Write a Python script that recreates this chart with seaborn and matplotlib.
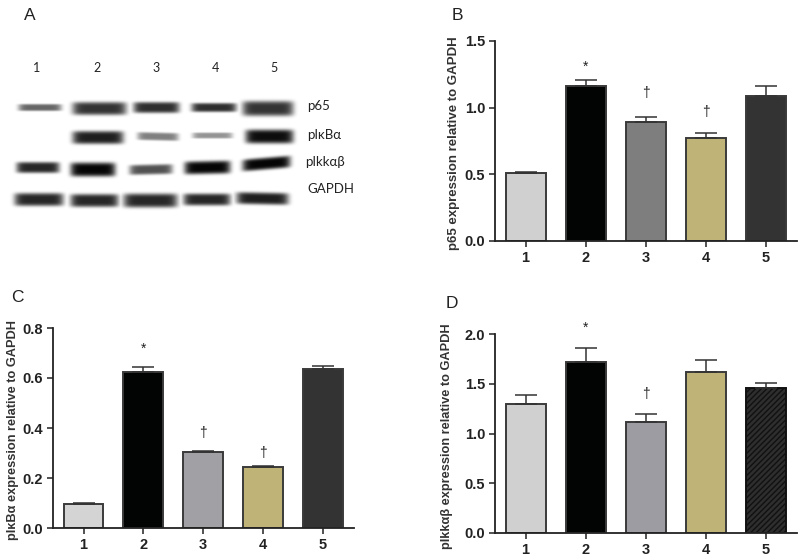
"""
plot.py
Western blot panel and three bar charts of protein expression relative to GAPDH.
"""

import numpy as np
import pandas as pd
import matplotlib.pyplot as plt
import seaborn as sns

sns.set_theme(style='ticks')
plt.rcParams['font.family'] = ['Liberation Sans', 'DejaVu Sans']

W, H = 800, 559

#
#  Values
#

groups = ['1', '2', '3', '4', '5']

p65_mean = [0.507, 1.165, 0.895, 0.775, 1.088]
p65_top = [0.516, 1.208, 0.928, 0.812, 1.165]

ikba_mean = [0.098, 0.626, 0.305, 0.246, 0.638]
ikba_top = [0.102, 0.646, 0.310, 0.250, 0.650]

ikk_mean = [1.294, 1.716, 1.114, 1.615, 1.455]
ikk_top = [1.385, 1.856, 1.194, 1.736, 1.512]

p65_marks = ['', '*', '†', '†', '']
ikba_marks = ['', '*', '†', '†', '']
ikk_marks = ['', '*', '†', '', '']

p65_mark_y = [0, 1.31, 1.11, 0.97, 0]
ikba_mark_y = [0, 0.716, 0.379, 0.302, 0]
ikk_mark_y = [0, 2.06, 1.398, 0, 0]

p65_colors = ['#d0d0d0', '#020404', '#7e7e7e', '#bfb377', '#333333']
ikba_colors = ['#d4d4d4', '#020404', '#a0a0a5', '#bfb377', '#333333']
ikk_colors = ['#d0d0d0', '#020404', '#9c9ca2', '#bfb377', '#2e2e2e']

blot_lanes = ['1', '2', '3', '4', '5']
blot_rows = ['p65', 'pIκBα', 'pIkkαβ', 'GAPDH']

#  band darkness, one row per protein, 0 = no band
p65_bands = [0.60, 0.80, 0.82, 0.82, 0.80]
ikba_bands = [0.0, 0.88, 0.50, 0.42, 0.95]
ikk_bands = [0.85, 0.98, 0.68, 0.98, 0.98]
gapdh_bands = [0.85, 0.85, 0.85, 0.85, 0.88]


def px_axes(fig, left, top, right, bottom):
    return fig.add_axes([left/W, 1-bottom/H, (right-left)/W, (bottom-top)/H])


def fig_text(fig, x, y, s, **kw):
    fig.text(x/W, 1-y/H, s, **kw)


fig = plt.figure(figsize=(W/100, H/100), dpi=100, facecolor='white')

#
#  Panel A: blot drawn as soft bands on a white image. Layout is in
#  pixels: lane start, lane end, row centre, band height, tilt.
#

p65_shape = [(18, 61, 107, 7, 0), (72, 126, 108, 13, 0), (133, 179, 107, 11, 0),
             (191, 236, 107, 9, 0), (242, 293, 108, 15, 0)]
ikba_shape = [(0, 0, 0, 1, 0), (72, 123, 137, 13, 0), (137, 178, 136, 8, 1),
              (192, 232, 135, 6, 0), (245, 293, 136, 14, 0)]
ikk_shape = [(16, 59, 167, 11, 0), (70, 115, 169, 14, 0), (129, 172, 169, 10, -1),
             (184, 230, 167, 13, -1), (242, 290, 163, 12, -4)]
gapdh_shape = [(14, 63, 199, 13, 0), (70, 118, 200, 13, 0), (123, 177, 200, 14, 0),
               (183, 230, 199, 12, 0), (236, 288, 198, 12, 1)]

yy, xx = np.mgrid[0:240, 0:400]
blot = np.zeros(xx.shape)
all_bands = [p65_bands, ikba_bands, ikk_bands, gapdh_bands]
all_shapes = [p65_shape, ikba_shape, ikk_shape, gapdh_shape]
for bands, shapes in zip(all_bands, all_shapes):
    for dark, (x0, x1, yc, h, tilt) in zip(bands, shapes):
        if dark == 0:
            continue
        xc = (x0+x1)/2
        hw = (x1-x0)/2
        dx = (xx-xc)/hw
        dy = (yy-yc-tilt*dx/2)/(h/2)
        blot = np.maximum(blot, dark*np.exp(-(dx**8)-np.abs(dy)**4))

ax_blot = px_axes(fig, 0, 0, 400, 240)
ax_blot.imshow(1-blot, cmap='gray', vmin=0, vmax=1, aspect='auto', interpolation='bilinear')
ax_blot.axis('off')

blot_font = ['Lato', 'Open Sans', 'DejaVu Sans']
for lane, x in zip(blot_lanes, [37, 97, 156, 215, 274]):
    fig_text(fig, x, 68, lane, fontsize=9, family=blot_font, color='#222222',
             ha='center', va='center')
for row, x, y in zip(blot_rows, [307, 307, 305, 307], [106, 135, 162, 189]):
    fig_text(fig, x, y, row, fontsize=9.5, family=blot_font, color='#222222',
             ha='left', va='center')

#
#  Panels B, C, D
#


def bar_panel(box, ymax, step, mean, top, marks, mark_y, colors, ylabel, label_x, label_y, size):
    ax = px_axes(fig, *box)
    data = pd.DataFrame({'group': groups, 'mean': mean})
    sns.barplot(data=data, x='group', y='mean', hue='group', palette=colors, dodge=False,
                legend=False, width=0.667, linewidth=1.4, edgecolor='#3a3a3a',
                saturation=1, ax=ax)

    err = np.array(top)-np.array(mean)
    ax.errorbar(range(5), mean, yerr=[np.zeros(5), err], fmt='none', ecolor='#333333',
                elinewidth=1.1, capsize=8, capthick=1.1, zorder=1)

    for i, (m, y) in enumerate(zip(marks, mark_y)):
        if m:
            ax.text(i, y, m, ha='center', va='center', fontsize=10, color='#222222',
                    clip_on=False)

    ax.set_xlim(-0.51, 4.52)
    ax.set_ylim(0, ymax)
    ax.set_yticks(np.arange(0, ymax+step/2, step))
    ax.yaxis.set_major_formatter(plt.FormatStrFormatter('%.1f'))
    ax.set_xlabel('')
    ax.set_ylabel('')
    ax.tick_params(axis='both', length=4, width=1.1, color='#222222', pad=3)
    for t in ax.get_xticklabels()+ax.get_yticklabels():
        t.set_fontsize(10.5)
        t.set_fontweight('bold')
        t.set_color('#222222')
    sns.despine(ax=ax)
    for side in ['left', 'bottom']:
        ax.spines[side].set_linewidth(1.3)
        ax.spines[side].set_color('#222222')
    fig_text(fig, label_x, label_y, ylabel, rotation=90, fontsize=size, fontweight='bold',
             color='#333333', ha='center', va='center')
    return ax


bar_panel((495, 41, 797, 241), 1.5, 0.5, p65_mean, p65_top, p65_marks, p65_mark_y, p65_colors,
          'p65 expression relative to GAPDH', 454, 143, 9.5)
bar_panel((53, 328, 354, 528), 0.8, 0.2, ikba_mean, ikba_top, ikba_marks, ikba_mark_y, ikba_colors,
          'pIκBα expression relative to GAPDH', 13, 430, 9.2)
ax_d = bar_panel((495, 334, 797, 533), 2.0, 0.5, ikk_mean, ikk_top, ikk_marks, ikk_mark_y, ikk_colors,
                 'pIkkαβ expression relative to GAPDH', 447, 436, 9.2)

#  last bar of panel D is hatched
plt.rcParams['hatch.linewidth'] = 0.6
ax_d.patches[4].set_hatch('//////')
ax_d.patches[4].set_edgecolor('#111111')

#
#  Panel letters
#

for letter, x, y in zip('ABCD', [30, 457, 17, 452], [15, 15, 298, 304]):
    fig_text(fig, x, y, letter, fontsize=12.5, color='#222222', ha='center', va='center')

fig.savefig('out.png', dpi=100)
